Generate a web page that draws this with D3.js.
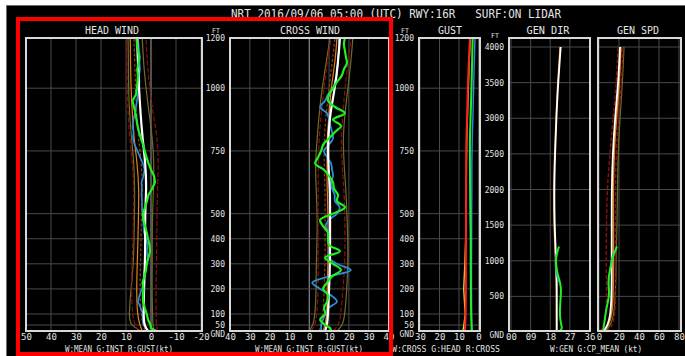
<!DOCTYPE html>
<html><head><meta charset="utf-8">
<script src="https://cdn.jsdelivr.net/npm/d3@7/dist/d3.min.js"></script>
<style>
html,body{margin:0;padding:0;background:#fff;}
svg{display:block;}
text{font-family:"DejaVu Sans Mono",monospace;fill:#e4e4e4;}
</style>
</head><body>
<svg id="chart" width="685" height="356"></svg>
<script>
// ---- height levels (ft) ----
const lowLevels = [0, 50, 100, 200, 300, 400, 500, 600, 700, 800, 900, 1000, 1100, 1200];
const fineLevels = [0, 25, 50, 75, 100, 125, 150, 175, 200, 225, 250, 275, 300, 325, 350, 375, 400,
  425, 450, 475, 500, 525, 550, 575, 600, 625, 650, 675, 700, 725, 750, 775, 800, 825, 850, 875,
  900, 925, 950, 975, 1000, 1025, 1050, 1075, 1100, 1125, 1150, 1175, 1200];
const tallLevels = [0, 100, 250, 500, 750, 1000, 1250, 1500, 2000, 2500, 3000, 3500, 4000];
const cpLevels = [0, 50, 100, 200, 300, 400, 500, 600, 700, 800, 900, 1000, 1100, 1200];

// ---- tick values ----
const lowTicks = [0, 50, 100, 200, 300, 400, 500, 750, 1000, 1200];
const lowTickLabels = ["GND", "50", "100", "200", "300", "400", "500", "750", "1000", "1200"];
const tallTicks = [0, 500, 1000, 1500, 2000, 2500, 3000, 3500, 4000];
const tallTickLabels = ["GND", "500", "1000", "1500", "2000", "2500", "3000", "3500", "4000"];
const headTicks = [50, 40, 30, 20, 10, 0, -10, -20];
const crossTicks = [-40, -30, -20, -10, 0, 10, 20, 30, 40];
const gustTicks = [30, 20, 10, 0];
const dirTicks = [0, 9, 18, 27, 36];
const dirTickLabels = ["00", "09", "18", "27", "36"];
const spdTicks = [0, 20, 40, 60, 80];

// ---- HEAD WIND (kt) ----
const headMean   = [1.2, 2.8, 3.0, 2.8, 2.4, 2.3, 2.4, 1.8, 2.2, 3.4, 4.2, 4.8, 5.2, 5.6];
const headOrange = [3.5, 4.5, 5.5, 5.8, 5.5, 5.2, 5.0, 4.8, 5.5, 6.8, 7.5, 8.0, 8.2, 8.3];
const headRedL   = [5.0, 6.5, 7.5, 7.8, 7.6, 7.2, 7.0, 6.8, 7.4, 8.5, 9.2, 9.5, 9.6, 9.8];
const headOliveL = [4.0, 8.5, 8.8, 8.0, 7.0, 6.8, 6.6, 6.5, 6.8, 7.8, 8.6, 9.0, 9.0, 9.2];
const headRedR   = [-2.5, -2.2, -2.0, -2.0, -2.2, -2.3, -2.4, -2.6, -3.0, -2.6, -0.8, 0.5, 1.5, 2.0];
const headOliveR = [-1.0, -0.8, -0.6, -0.4, -0.5, -0.5, -0.6, -1.0, -1.2, -0.6, 0.8, 2.0, 3.0, 3.5];
const headBrown  = [2.5, 3.0, 4.0, 4.5, 4.2, 4.0, 3.8, 3.4, 3.8, 5.0, 5.8, 6.2, 6.5, 6.8];
const headInst = [-2, 0, 0.2, 1.2, 1.7, 2.5, 3.2, 3.2, 3.0, 3.4, 2.6, 2.0, 1.7, 1.0, 0.4, 0.6, 1.2,
  1.7, 2.4, 3.0, 3.2, 2.4, 1.6, 1.0, -0.5, -1.6, -1.2, 0.0, 1.0, 1.8, 2.5, 3.2, 4.0, 4.8, 5.4, 5.8,
  6.2, 6.8, 7.4, 6.0, 5.6, 5.4, 5.2, 5.5, 5.0, 4.8, 5.2, 5.6, 5.8];
const headBlue = [1.0, 2.0, 3.0, 3.4, 3.2, 4.2, 5.2, 4.6, 3.6, 3.0, 2.8, 2.6, 1.6, 1.4, 1.6, 1.4, 2.0,
  2.8, 3.0, 3.2, 3.4, 3.6, 3.6, 3.8, 3.7, 3.8, 3.0, 2.6, 3.2, 4.4, 5.4, 6.6, 7.2, 7.0, 7.4, 7.0,
  6.4, 6.0, 5.6, 5.2, 4.8, 4.6, 4.8, 4.4, 4.6, 4.4, 4.8, 5.0, 5.2];

// ---- CROSS WIND (kt) ----
const crossMean   = [8, 9, 9.5, 10, 10.5, 10.5, 10.5, 10.5, 9.5, 9.5, 10.5, 13, 14.5, 15.5];
const crossOrange = [7, 8, 9, 9, 9.5, 9.5, 9.5, 9, 9, 9, 10, 11, 13, 14];
const crossRedL   = [1, 3, 4, 4.5, 4.5, 4.5, 4.5, 4.5, 4.5, 5, 6, 7.5, 9, 11];
const crossRedR   = [12, 15, 16, 17, 18, 18, 18, 17.5, 16.5, 16, 17, 18, 19.5, 21];
const crossOliveL = [0, 2, 3, 3.5, 3.5, 4, 4, 3.5, 3, 4, 5, 6.5, 8.5, 10.5];
const crossOliveR = [14, 17, 18, 19, 19.5, 19.5, 19, 18.5, 17.5, 17, 18, 19.5, 21, 22];
const crossBrown  = [5, 6, 7, 7.5, 8, 8, 8, 8, 7.5, 7.5, 8.5, 10, 11.5, 13];
const crossInst = [11, 10.5, 8, 5.5, 8, 7.5, 9, 9.5, 7, 9, 11.5, 16, 12, 8, 15.5, 10, 9.5,
  9.4, 7, 5.5, 12, 18, 14, 14.5, 12.5, 12, 10, 7.4, 3, 4.5, 6, 7, 10, 13, 16, 12,
  18, 13, 9.5, 10, 12, 14, 16.4, 17.5, 19, 18.5, 18, 17.5, 18];
const crossBlue = [6, 6, 6, 7, 8, 10, 14, 11, 5.5, 1.5, 10, 21, 14, 10, 10, 10.5, 10.5,
  10, 8.3, 10, 14, 15.4, 13, 12.8, 11.5, 11, 12, 11.5, 11, 9, 7.4, 10, 12, 11.5, 10.7, 10,
  9, 5.5, 8, 9.5, 12, 13, 13.8, 14, 14.5, 14.5, 15, 15, 15];

// ---- GUST (kt) ----
const gustRed    = [7, 6.8, 6.6, 6.5, 6.5, 6.4, 6.4, 6.3, 6.3, 6.2, 5.8, 5.5, 5.0, 4.4];
const gustYellow = [8, 7.5, 6.8, 7.6, 7.0, 6.6, 6.4, 6.3, 6.2, 6.0, 5.6, 5.2, 4.8, 4.2];
const gustGreen  = [3.5, 3.6, 3.8, 3.9, 4.0, 4.0, 4.2, 4.3, 4.4, 4.4, 4.0, 3.6, 3.3, 3.0];
const gustBlue   = [3.2, 3.4, 3.5, 3.6, 3.6, 3.5, 3.5, 3.4, 3.4, 3.2, 2.8, 2.5, 2.2, 1.8];

// ---- GEN DIR (x10 deg) ----
const dirMean   = [21, 21, 21, 21, 21, 20.6, 20.4, 20.0, 19.8, 20.2, 20.8, 21.6, 22.8];
const dirOrange = [20.8, 20.8, 20.8, 20.8, 20.7, 20.4, 20.1, 19.7, 19.5, 20.0, 20.6, 21.4, 22.5];
const dirCp     = [22, 23.6, 23, 22.5, 22.4, 22.6, 22.8, 23, 22.5, 21.5, 20.8, 20.5, 21, 22];
const dirBlueLevels = [700, 800, 900, 1000, 1100];
const dirBlue   = [21.8, 21, 20.4, 20.3, 20.8];

// ---- GEN SPD (kt) ----
const spdMean   = [4, 9, 11.5, 12.5, 12.7, 12.7, 12.7, 12.7, 12.7, 13.7, 16, 19.3, 21];
const spdOrange = [5, 10, 13, 14, 14.5, 14.5, 14.5, 14.5, 14.2, 15, 17.5, 20.5, 22];
const spdRedL   = [1, 5, 7, 7.5, 7.5, 7.2, 7.2, 7.5, 8, 11, 14, 17.5, 19];
const spdRedR   = [8, 14, 16, 16.5, 16.7, 16.7, 16.5, 16.5, 16.5, 17, 19.5, 22.5, 24];
const spdOliveR = [6, 12, 15, 16, 17, 17, 17.5, 18, 18.5, 19, 21, 23.5, 25];
const spdCp     = [3.7, 4.5, 5, 6, 7, 8.5, 10, 10, 9.3, 10, 11.5, 12.7, 15, 18];
const spdBlueLevels = [600, 700, 800, 900, 1000, 1100];
const spdBlue   = [9.5, 9.6, 10.2, 11.2, 12.4, 14];

// ---- colours ----
const C = {
  white: "#ffffff", green: "#22ee22", blue: "#2a8fd8", orange: "#e8801a",
  red: "#8a1010", olive: "#6e6e28", brown: "#8a4418", gustRed: "#ff2020", yellow: "#d8d820"
};
const GRID = "#4a4a4a";

const svg = d3.select("#chart");
const TOP = 38, BOT = 331;

// background
svg.append("rect").attr("x", 0).attr("y", 0).attr("width", 685).attr("height", 356).attr("fill", "#fff");
svg.append("rect").attr("x", 6.5).attr("y", 5.5).attr("width", 680).attr("height", 352)
  .attr("fill", "#000").attr("stroke", "#707070").attr("stroke-width", 1);

// vertical scales
const yLow = d3.scaleLinear().domain([0, 50, 100, 1200]).range([BOT, 325, 314, TOP]);
const yTall = d3.scaleLinear().domain([0, 4000]).range([332, 47]);

// title
svg.append("text").attr("x", 231).attr("y", 17.5).attr("font-size", 11.5)
  .attr("textLength", 330).attr("lengthAdjust", "spacingAndGlyphs")
  .text("NRT 2016/09/06 05:00 (UTC) RWY:16R\u00a0\u00a0\u00a0SURF:ON LIDAR");

let clipId = 0;
function drawPanel(p) {
  const g = svg.append("g");
  const x = d3.scaleLinear().domain(p.xDomain).range(p.xRange);
  const y = p.y;
  const [x0, x1] = p.box;

  // grid
  g.selectAll(null).data(p.xTicks).join("line")
    .attr("x1", d => x(d)).attr("x2", d => x(d)).attr("y1", TOP).attr("y2", BOT)
    .attr("stroke", d => (p.zeroBright && d === 0) ? "#a0a0a0" : GRID).attr("stroke-width", 1);
  g.selectAll(null).data(p.yGrid).join("line")
    .attr("x1", x0).attr("x2", x1).attr("y1", d => y(d)).attr("y2", d => y(d))
    .attr("stroke", GRID).attr("stroke-width", 1);

  // series
  const id = "clip" + (clipId++);
  g.append("clipPath").attr("id", id).append("rect")
    .attr("x", x0).attr("y", TOP).attr("width", x1 - x0).attr("height", BOT - TOP);
  const lines = g.append("g").attr("clip-path", `url(#${id})`);
  p.series.forEach(s => {
    const pts = s.values.map((v, i) => [v, s.levels[i]]);
    const line = d3.line().x(d => x(d[0])).y(d => y(d[1])).curve(s.curve || d3.curveLinear);
    lines.append("path").datum(pts).attr("d", line)
      .attr("fill", "none").attr("stroke", s.color).attr("stroke-width", s.width || 1.2)
      .attr("stroke-dasharray", s.dash || null).attr("stroke-linejoin", "round");
  });

  // frame
  g.append("rect").attr("x", x0).attr("y", TOP).attr("width", x1 - x0).attr("height", BOT - TOP)
    .attr("fill", "none").attr("stroke", "#d8d8d8").attr("stroke-width", 2);

  // x axis labels
  const ax = d3.axisBottom(x).tickValues(p.xTicks).tickSize(0).tickPadding(2)
    .tickFormat(p.xFormat || (d => d));
  const axg = g.append("g").attr("transform", `translate(0,${BOT + 1})`).call(ax);
  axg.select(".domain").remove();
  axg.selectAll("text").attr("font-size", 9).attr("fill", "#cfcfcf")
    .attr("font-family", "DejaVu Sans Mono, monospace");

  // panel title
  g.append("text").attr("x", p.titleX).attr("y", 34).attr("text-anchor", "middle")
    .attr("font-size", 10.5).attr("textLength", p.titleLen).attr("lengthAdjust", "spacingAndGlyphs")
    .text(p.title);

  // legend under axis
  if (p.legend) {
    g.append("text").attr("x", p.legendX).attr("y", 352).attr("font-size", 9)
      .attr("textLength", p.legendLen).attr("lengthAdjust", "spacingAndGlyphs")
      .text(p.legend);
  }
}

function drawHeightAxis(xRight, scale, ticks, labels, ftX, ftY) {
  const ax = d3.axisLeft(scale).tickValues(ticks).tickSize(0).tickPadding(0)
    .tickFormat((d, i) => labels[i]);
  const g = svg.append("g").attr("transform", `translate(${xRight},0)`).call(ax);
  g.select(".domain").remove();
  g.selectAll("text").attr("font-size", 8).attr("fill", "#cfcfcf")
    .attr("font-family", "DejaVu Sans Mono, monospace")
    .attr("dy", d => d === 0 ? "0.65em" : "0.32em");
  svg.append("text").attr("x", ftX).attr("y", ftY).attr("font-size", 6.5)
    .attr("text-anchor", "middle").attr("fill", "#cfcfcf").text("FT");
}

// HEAD WIND
drawPanel({
  title: "HEAD WIND", titleX: 112, titleLen: 54,
  box: [26, 202], xDomain: [50, -20], xRange: [26, 201], xTicks: headTicks, zeroBright: true,
  y: yLow, yGrid: [50, 100, 200, 300, 400, 500, 750, 1000],
  legend: "W:MEAN G:INST R:GUST(kt)", legendX: 65, legendLen: 108,
  series: [
    { levels: lowLevels, values: headOliveL, color: C.olive, curve: d3.curveBasis },
    { levels: lowLevels, values: headRedL, color: C.red, dash: "5,2", curve: d3.curveBasis },
    { levels: lowLevels, values: headOliveR, color: C.olive, curve: d3.curveBasis },
    { levels: lowLevels, values: headRedR, color: C.red, dash: "5,2", curve: d3.curveBasis },
    { levels: lowLevels, values: headBrown, color: C.brown, dash: "3,2", curve: d3.curveBasis },
    { levels: lowLevels, values: headOrange, color: C.orange, curve: d3.curveBasis },
    { levels: fineLevels, values: headBlue, color: C.blue, width: 1.6 },
    { levels: lowLevels, values: headMean, color: C.white, width: 2.2, curve: d3.curveBasis },
    { levels: fineLevels, values: headInst, color: C.green, width: 2.2 }
  ]
});

// CROSS WIND
drawPanel({
  title: "CROSS WIND", titleX: 310, titleLen: 60,
  box: [230, 389], xDomain: [-40, 40], xRange: [230, 388.5], xTicks: crossTicks, zeroBright: true,
  xFormat: d => Math.abs(d),
  y: yLow, yGrid: [50, 100, 200, 300, 400, 500, 750, 1000],
  legend: "W:MEAN G:INST R:GUST(kt)", legendX: 255, legendLen: 108,
  series: [
    { levels: lowLevels, values: crossOliveL, color: C.olive, curve: d3.curveBasis },
    { levels: lowLevels, values: crossRedL, color: C.red, dash: "5,2", curve: d3.curveBasis },
    { levels: lowLevels, values: crossOliveR, color: C.olive, curve: d3.curveBasis },
    { levels: lowLevels, values: crossRedR, color: C.red, dash: "5,2", curve: d3.curveBasis },
    { levels: lowLevels, values: crossBrown, color: C.brown, dash: "3,2", curve: d3.curveBasis },
    { levels: lowLevels, values: crossOrange, color: C.orange, curve: d3.curveBasis },
    { levels: fineLevels, values: crossBlue, color: C.blue, width: 1.8, curve: d3.curveCatmullRom },
    { levels: lowLevels, values: crossMean, color: C.white, width: 2.2, curve: d3.curveBasis },
    { levels: fineLevels, values: crossInst, color: C.green, width: 2.2, curve: d3.curveCatmullRom }
  ]
});

// GUST
drawPanel({
  title: "GUST", titleX: 450, titleLen: 24,
  box: [419, 480], xDomain: [30, 0], xRange: [420, 478.5], xTicks: gustTicks,
  y: yLow, yGrid: [50, 100, 200, 300, 400, 500, 750, 1000],
  legend: "W:CROSS G:HEAD R:CROSS", legendX: 392, legendLen: 108,
  series: [
    { levels: lowLevels, values: gustYellow, color: C.yellow, width: 1.4 },
    { levels: lowLevels, values: gustBlue, color: C.blue, width: 1.4 },
    { levels: lowLevels, values: gustRed, color: C.gustRed, width: 2 },
    { levels: lowLevels, values: gustGreen, color: C.green, width: 2 }
  ]
});

// GEN DIR
drawPanel({
  title: "GEN DIR", titleX: 548, titleLen: 43,
  box: [509, 590], xDomain: [0, 36], xRange: [511, 589.5], xTicks: dirTicks,
  xFormat: (d, i) => dirTickLabels[i],
  y: yTall, yGrid: [500, 1000, 1500, 2000, 2500, 3000, 3500, 4000],
  legend: "W:GEN G:CP_MEAN (kt)", legendX: 550, legendLen: 92,
  series: [
    { levels: tallLevels, values: dirOrange, color: C.orange, width: 1.4, curve: d3.curveBasis },
    { levels: tallLevels, values: dirMean, color: C.white, width: 1.8, curve: d3.curveBasis },
    { levels: dirBlueLevels, values: dirBlue, color: C.blue, width: 1.4, curve: d3.curveBasis },
    { levels: cpLevels, values: dirCp, color: C.green, width: 2, curve: d3.curveBasis }
  ]
});

// GEN SPD
drawPanel({
  title: "GEN SPD", titleX: 638, titleLen: 42,
  box: [598, 681], xDomain: [0, 80], xRange: [599, 679], xTicks: spdTicks,
  y: yTall, yGrid: [500, 1000, 1500, 2000, 2500, 3000, 3500, 4000],
  legend: "",
  series: [
    { levels: tallLevels, values: spdOliveR, color: C.olive, curve: d3.curveBasis },
    { levels: tallLevels, values: spdRedL, color: C.red, dash: "4,2", width: 1.4, curve: d3.curveBasis },
    { levels: tallLevels, values: spdRedR, color: C.red, dash: "4,2", width: 1.4, curve: d3.curveBasis },
    { levels: tallLevels, values: spdOrange, color: C.orange, width: 1.4, curve: d3.curveBasis },
    { levels: tallLevels, values: spdMean, color: C.white, width: 1.8, curve: d3.curveBasis },
    { levels: spdBlueLevels, values: spdBlue, color: C.blue, width: 1.4, curve: d3.curveBasis },
    { levels: cpLevels, values: spdCp, color: C.green, width: 2, curve: d3.curveBasis }
  ]
});

// height axes
drawHeightAxis(225, yLow, lowTicks, lowTickLabels, 216, 33);
drawHeightAxis(414, yLow, lowTicks, lowTickLabels, 405, 33);
drawHeightAxis(504, yTall, tallTicks, tallTickLabels, 495, 38);

// highlight frame round the wind component panels
svg.append("rect").attr("x", 18).attr("y", 19).attr("width", 373).attr("height", 335)
  .attr("fill", "none").attr("stroke", "#ff0000").attr("stroke-width", 4);
</script>
</body></html>
